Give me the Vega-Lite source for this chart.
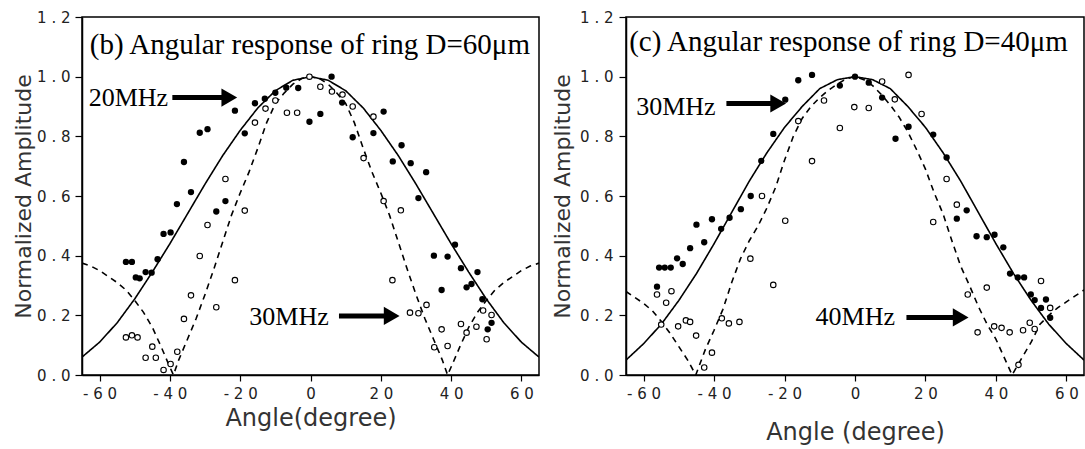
{
  "$schema": "https://vega.github.io/schema/vega-lite/v6.json",
  "padding": {"left": 11, "top": 9, "right": 2, "bottom": 0},
  "background": "white",
  "bounds": "flush",
  "spacing": 87,
  "config": {
    "view": {"stroke": "black", "strokeWidth": 1.5},
    "axis": {
      "domainColor": "black", "domainWidth": 1.5, "tickColor": "black", "tickWidth": 1.2,
      "labelFont": "DejaVu Sans", "labelFontSize": 15, "labelColor": "#222",
      "titleFont": "DejaVu Sans", "titleFontWeight": "normal", "titleColor": "#333",
      "grid": false, "labelOverlap": false, "labelFlush": false
    }
  },
  "datasets": {
    "b_curves": [
      {"curve":"solid","angle":-65,"amp":0.06},{"curve":"solid","angle":-60,"amp":0.11},{"curve":"solid","angle":-55,"amp":0.175},{"curve":"solid","angle":-50,"amp":0.255},{"curve":"solid","angle":-45,"amp":0.345},{"curve":"solid","angle":-40,"amp":0.44},{"curve":"solid","angle":-35,"amp":0.54},{"curve":"solid","angle":-30,"amp":0.64},{"curve":"solid","angle":-25,"amp":0.735},{"curve":"solid","angle":-20,"amp":0.82},{"curve":"solid","angle":-15,"amp":0.895},{"curve":"solid","angle":-10,"amp":0.953},{"curve":"solid","angle":-5,"amp":0.988},{"curve":"solid","angle":0,"amp":1.0},{"curve":"solid","angle":5,"amp":0.988},{"curve":"solid","angle":10,"amp":0.953},{"curve":"solid","angle":15,"amp":0.895},{"curve":"solid","angle":20,"amp":0.82},{"curve":"solid","angle":25,"amp":0.735},{"curve":"solid","angle":30,"amp":0.64},{"curve":"solid","angle":35,"amp":0.54},{"curve":"solid","angle":40,"amp":0.44},{"curve":"solid","angle":45,"amp":0.345},{"curve":"solid","angle":50,"amp":0.255},{"curve":"solid","angle":55,"amp":0.175},{"curve":"solid","angle":60,"amp":0.11},{"curve":"solid","angle":65,"amp":0.06},
      {"curve":"dashed","angle":-65,"amp":0.375},{"curve":"dashed","angle":-62.5,"amp":0.365},{"curve":"dashed","angle":-60,"amp":0.35},{"curve":"dashed","angle":-57.5,"amp":0.33},{"curve":"dashed","angle":-55,"amp":0.31},{"curve":"dashed","angle":-52.5,"amp":0.285},{"curve":"dashed","angle":-50,"amp":0.25},{"curve":"dashed","angle":-47.5,"amp":0.21},{"curve":"dashed","angle":-45,"amp":0.16},{"curve":"dashed","angle":-42.5,"amp":0.095},{"curve":"dashed","angle":-40.5,"amp":0.04},{"curve":"dashed","angle":-39,"amp":0.0},{"curve":"dashed","angle":-37.5,"amp":0.05},{"curve":"dashed","angle":-35,"amp":0.12},{"curve":"dashed","angle":-32.5,"amp":0.19},{"curve":"dashed","angle":-30,"amp":0.27},{"curve":"dashed","angle":-27.5,"amp":0.355},{"curve":"dashed","angle":-25,"amp":0.445},{"curve":"dashed","angle":-22.5,"amp":0.535},{"curve":"dashed","angle":-20,"amp":0.61},{"curve":"dashed","angle":-17.5,"amp":0.68},{"curve":"dashed","angle":-15,"amp":0.76},{"curve":"dashed","angle":-12.5,"amp":0.845},{"curve":"dashed","angle":-10,"amp":0.91},{"curve":"dashed","angle":-7.5,"amp":0.945},{"curve":"dashed","angle":-5,"amp":0.975},{"curve":"dashed","angle":-2.5,"amp":0.994},{"curve":"dashed","angle":0,"amp":1.0},{"curve":"dashed","angle":2.5,"amp":0.994},{"curve":"dashed","angle":5,"amp":0.975},{"curve":"dashed","angle":7.5,"amp":0.945},{"curve":"dashed","angle":10,"amp":0.91},{"curve":"dashed","angle":12.5,"amp":0.845},{"curve":"dashed","angle":15,"amp":0.76},{"curve":"dashed","angle":17.5,"amp":0.68},{"curve":"dashed","angle":20,"amp":0.61},{"curve":"dashed","angle":22.5,"amp":0.535},{"curve":"dashed","angle":25,"amp":0.445},{"curve":"dashed","angle":27.5,"amp":0.355},{"curve":"dashed","angle":30,"amp":0.27},{"curve":"dashed","angle":32.5,"amp":0.19},{"curve":"dashed","angle":35,"amp":0.12},{"curve":"dashed","angle":37.5,"amp":0.05},{"curve":"dashed","angle":39,"amp":0.0},{"curve":"dashed","angle":40.5,"amp":0.04},{"curve":"dashed","angle":42.5,"amp":0.095},{"curve":"dashed","angle":45,"amp":0.16},{"curve":"dashed","angle":47.5,"amp":0.21},{"curve":"dashed","angle":50,"amp":0.25},{"curve":"dashed","angle":52.5,"amp":0.285},{"curve":"dashed","angle":55,"amp":0.31},{"curve":"dashed","angle":57.5,"amp":0.33},{"curve":"dashed","angle":60,"amp":0.35},{"curve":"dashed","angle":62.5,"amp":0.365},{"curve":"dashed","angle":65,"amp":0.375}
    ],
    "b_filled": [
      {"angle":-52.5,"amp":0.379},{"angle":-50.8,"amp":0.379},{"angle":-49.7,"amp":0.327},{"angle":-48.6,"amp":0.324},{"angle":-46.9,"amp":0.345},{"angle":-45.2,"amp":0.343},{"angle":-43.5,"amp":0.388},{"angle":-41.8,"amp":0.473},{"angle":-39.8,"amp":0.478},{"angle":-38.0,"amp":0.573},{"angle":-36.0,"amp":0.714},{"angle":-34.0,"amp":0.613},{"angle":-31.5,"amp":0.812},{"angle":-29.3,"amp":0.824},{"angle":-26.8,"amp":0.548},{"angle":-24.2,"amp":0.583},{"angle":-21.5,"amp":0.886},{"angle":-18.7,"amp":0.81},{"angle":-15.8,"amp":0.911},{"angle":-13.0,"amp":0.926},{"angle":-10.0,"amp":0.946},{"angle":-6.9,"amp":0.963},{"angle":-3.5,"amp":0.962},{"angle":-0.3,"amp":0.849},{"angle":2.8,"amp":0.875},{"angle":6.0,"amp":1.0},{"angle":9.0,"amp":0.913},{"angle":12.0,"amp":0.797},{"angle":17.9,"amp":0.811},{"angle":20.8,"amp":0.883},{"angle":23.4,"amp":0.716},{"angle":25.9,"amp":0.77},{"angle":28.5,"amp":0.71},{"angle":30.7,"amp":0.593},{"angle":32.9,"amp":0.68},{"angle":35.1,"amp":0.40},{"angle":37.3,"amp":0.285},{"angle":39.0,"amp":0.397},{"angle":41.1,"amp":0.437},{"angle":42.8,"amp":0.358},{"angle":44.4,"amp":0.294},{"angle":45.8,"amp":0.305},{"angle":47.5,"amp":0.345},{"angle":48.9,"amp":0.254},{"angle":50.4,"amp":0.153},{"angle":51.5,"amp":0.175}
    ],
    "b_open": [
      {"angle":-52.5,"amp":0.126},{"angle":-50.8,"amp":0.133},{"angle":-49.2,"amp":0.126},{"angle":-46.9,"amp":0.058},{"angle":-45.0,"amp":0.095},{"angle":-44.0,"amp":0.058},{"angle":-41.8,"amp":0.017},{"angle":-39.8,"amp":0.037},{"angle":-37.9,"amp":0.078},{"angle":-36.0,"amp":0.188},{"angle":-34.0,"amp":0.267},{"angle":-31.5,"amp":0.399},{"angle":-29.3,"amp":0.503},{"angle":-26.8,"amp":0.227},{"angle":-24.2,"amp":0.657},{"angle":-21.5,"amp":0.318},{"angle":-18.7,"amp":0.551},{"angle":-15.8,"amp":0.846},{"angle":-12.8,"amp":0.893},{"angle":-10.0,"amp":0.92},{"angle":-6.7,"amp":0.879},{"angle":-3.8,"amp":0.879},{"angle":-0.3,"amp":1.0},{"angle":2.8,"amp":0.966},{"angle":6.1,"amp":0.95},{"angle":9.1,"amp":0.94},{"angle":12.0,"amp":0.9},{"angle":15.1,"amp":0.727},{"angle":17.9,"amp":0.866},{"angle":20.8,"amp":0.583},{"angle":23.3,"amp":0.318},{"angle":25.7,"amp":0.552},{"angle":28.3,"amp":0.209},{"angle":30.7,"amp":0.207},{"angle":33.0,"amp":0.235},{"angle":35.2,"amp":0.093},{"angle":37.3,"amp":0.153},{"angle":39.0,"amp":0.097},{"angle":42.8,"amp":0.171},{"angle":44.4,"amp":0.142},{"angle":47.2,"amp":0.162},{"angle":49.1,"amp":0.216},{"angle":50.1,"amp":0.12},{"angle":51.5,"amp":0.201}
    ],
    "b_title": [{"angle":-62.8,"amp":1.105,"label":"(b) Angular response of ring D=60μm"}],
    "b_labels": [{"angle":-63.1,"amp":0.928,"label":"20MHz"},{"angle":-17.4,"amp":0.193,"label":"30MHz"}],
    "b_arrows": [{"angle":-39.3,"angle2":-23.1,"amp":0.93},{"angle":8.1,"angle2":23.1,"amp":0.198}],
    "c_curves": [
      {"curve":"solid","angle":-65,"amp":0.05},{"curve":"solid","angle":-60,"amp":0.105},{"curve":"solid","angle":-55,"amp":0.17},{"curve":"solid","angle":-50,"amp":0.25},{"curve":"solid","angle":-45,"amp":0.34},{"curve":"solid","angle":-40,"amp":0.44},{"curve":"solid","angle":-35,"amp":0.545},{"curve":"solid","angle":-30,"amp":0.65},{"curve":"solid","angle":-25,"amp":0.745},{"curve":"solid","angle":-20,"amp":0.83},{"curve":"solid","angle":-15,"amp":0.9},{"curve":"solid","angle":-10,"amp":0.96},{"curve":"solid","angle":-5,"amp":0.99},{"curve":"solid","angle":0,"amp":1.0},{"curve":"solid","angle":5,"amp":0.99},{"curve":"solid","angle":10,"amp":0.96},{"curve":"solid","angle":15,"amp":0.9},{"curve":"solid","angle":20,"amp":0.83},{"curve":"solid","angle":25,"amp":0.745},{"curve":"solid","angle":30,"amp":0.65},{"curve":"solid","angle":35,"amp":0.545},{"curve":"solid","angle":40,"amp":0.44},{"curve":"solid","angle":45,"amp":0.34},{"curve":"solid","angle":50,"amp":0.25},{"curve":"solid","angle":55,"amp":0.17},{"curve":"solid","angle":60,"amp":0.105},{"curve":"solid","angle":65,"amp":0.05},
      {"curve":"dashed","angle":-65,"amp":0.28},{"curve":"dashed","angle":-62.5,"amp":0.26},{"curve":"dashed","angle":-60,"amp":0.24},{"curve":"dashed","angle":-57.5,"amp":0.215},{"curve":"dashed","angle":-55,"amp":0.18},{"curve":"dashed","angle":-52.5,"amp":0.14},{"curve":"dashed","angle":-50,"amp":0.095},{"curve":"dashed","angle":-47.5,"amp":0.05},{"curve":"dashed","angle":-45.2,"amp":0.0},{"curve":"dashed","angle":-42.5,"amp":0.085},{"curve":"dashed","angle":-40,"amp":0.15},{"curve":"dashed","angle":-37.5,"amp":0.22},{"curve":"dashed","angle":-35,"amp":0.31},{"curve":"dashed","angle":-32.5,"amp":0.39},{"curve":"dashed","angle":-30,"amp":0.45},{"curve":"dashed","angle":-27.5,"amp":0.5},{"curve":"dashed","angle":-25,"amp":0.56},{"curve":"dashed","angle":-22.5,"amp":0.63},{"curve":"dashed","angle":-20,"amp":0.72},{"curve":"dashed","angle":-17.5,"amp":0.8},{"curve":"dashed","angle":-15,"amp":0.86},{"curve":"dashed","angle":-12.5,"amp":0.9},{"curve":"dashed","angle":-10,"amp":0.93},{"curve":"dashed","angle":-7.5,"amp":0.955},{"curve":"dashed","angle":-5,"amp":0.975},{"curve":"dashed","angle":-2.5,"amp":0.993},{"curve":"dashed","angle":0,"amp":1.0},{"curve":"dashed","angle":2.5,"amp":0.99},{"curve":"dashed","angle":5,"amp":0.97},{"curve":"dashed","angle":7.5,"amp":0.94},{"curve":"dashed","angle":10,"amp":0.905},{"curve":"dashed","angle":12.5,"amp":0.865},{"curve":"dashed","angle":15,"amp":0.815},{"curve":"dashed","angle":17.5,"amp":0.755},{"curve":"dashed","angle":20,"amp":0.69},{"curve":"dashed","angle":22.5,"amp":0.61},{"curve":"dashed","angle":25,"amp":0.54},{"curve":"dashed","angle":27.5,"amp":0.45},{"curve":"dashed","angle":30,"amp":0.365},{"curve":"dashed","angle":32.5,"amp":0.3},{"curve":"dashed","angle":35,"amp":0.23},{"curve":"dashed","angle":37.5,"amp":0.17},{"curve":"dashed","angle":40,"amp":0.12},{"curve":"dashed","angle":42.5,"amp":0.055},{"curve":"dashed","angle":44.6,"amp":0.0},{"curve":"dashed","angle":47.5,"amp":0.06},{"curve":"dashed","angle":50,"amp":0.11},{"curve":"dashed","angle":52.5,"amp":0.17},{"curve":"dashed","angle":55,"amp":0.2},{"curve":"dashed","angle":57.5,"amp":0.225},{"curve":"dashed","angle":60,"amp":0.245},{"curve":"dashed","angle":62.5,"amp":0.265},{"curve":"dashed","angle":65,"amp":0.285}
    ],
    "c_filled": [
      {"angle":-56.2,"amp":0.296},{"angle":-55.6,"amp":0.36},{"angle":-54.0,"amp":0.36},{"angle":-52.3,"amp":0.36},{"angle":-50.5,"amp":0.391},{"angle":-48.9,"amp":0.372},{"angle":-46.8,"amp":0.425},{"angle":-45.0,"amp":0.504},{"angle":-42.8,"amp":0.445},{"angle":-40.6,"amp":0.522},{"angle":-38.0,"amp":0.49},{"angle":-35.6,"amp":0.527},{"angle":-32.4,"amp":0.556},{"angle":-29.6,"amp":0.6},{"angle":-26.6,"amp":0.718},{"angle":-23.2,"amp":0.808},{"angle":-19.8,"amp":0.923},{"angle":-16.1,"amp":0.988},{"angle":-12.2,"amp":1.006},{"angle":-4.3,"amp":0.97},{"angle":0.0,"amp":1.0},{"angle":3.9,"amp":0.98},{"angle":7.7,"amp":0.93},{"angle":11.5,"amp":0.792},{"angle":15.2,"amp":0.832},{"angle":22.2,"amp":0.806},{"angle":26.0,"amp":0.729},{"angle":28.9,"amp":0.524},{"angle":31.7,"amp":0.552},{"angle":34.5,"amp":0.465},{"angle":37.4,"amp":0.462},{"angle":39.6,"amp":0.47},{"angle":42.1,"amp":0.428},{"angle":44.0,"amp":0.34},{"angle":46.2,"amp":0.327},{"angle":48.0,"amp":0.327},{"angle":49.9,"amp":0.27},{"angle":51.0,"amp":0.251},{"angle":52.8,"amp":0.225},{"angle":54.2,"amp":0.253},{"angle":55.4,"amp":0.192}
    ],
    "c_open": [
      {"angle":-56.2,"amp":0.27},{"angle":-55.0,"amp":0.169},{"angle":-53.6,"amp":0.242},{"angle":-52.1,"amp":0.281},{"angle":-50.2,"amp":0.163},{"angle":-48.0,"amp":0.183},{"angle":-46.8,"amp":0.178},{"angle":-45.1,"amp":0.132},{"angle":-42.8,"amp":0.025},{"angle":-40.6,"amp":0.075},{"angle":-37.8,"amp":0.19},{"angle":-35.8,"amp":0.173},{"angle":-32.8,"amp":0.178},{"angle":-29.7,"amp":0.39},{"angle":-26.4,"amp":0.6},{"angle":-23.2,"amp":0.302},{"angle":-19.8,"amp":0.517},{"angle":-16.1,"amp":0.851},{"angle":-12.2,"amp":0.717},{"angle":-8.8,"amp":0.92},{"angle":-4.3,"amp":0.828},{"angle":-0.2,"amp":0.898},{"angle":3.9,"amp":0.895},{"angle":7.7,"amp":0.984},{"angle":11.3,"amp":0.924},{"angle":15.2,"amp":1.006},{"angle":18.9,"amp":0.875},{"angle":22.2,"amp":0.513},{"angle":26.0,"amp":0.657},{"angle":28.9,"amp":0.571},{"angle":32.0,"amp":0.27},{"angle":34.8,"amp":0.143},{"angle":37.4,"amp":0.293},{"angle":39.5,"amp":0.163},{"angle":41.6,"amp":0.158},{"angle":43.9,"amp":0.143},{"angle":46.4,"amp":0.034},{"angle":47.7,"amp":0.15},{"angle":49.6,"amp":0.175},{"angle":51.0,"amp":0.154},{"angle":52.8,"amp":0.315},{"angle":55.4,"amp":0.225}
    ],
    "c_title": [{"angle":-64.1,"amp":1.116,"label":"(c) Angular response of ring D=40μm"}],
    "c_labels": [{"angle":-62.1,"amp":0.9,"label":"30MHz"},{"angle":-11.2,"amp":0.193,"label":"40MHz"}],
    "c_arrows": [{"angle":-36.5,"angle2":-21.8,"amp":0.91},{"angle":14.6,"angle2":30.0,"amp":0.193}]
  },
  "hconcat": [
    {
      "width": 457, "height": 358,
      "layer": [
        {
          "data": {"name": "b_curves"},
          "mark": {"type": "line", "color": "black", "strokeWidth": 1.6, "clip": true},
          "encoding": {
            "x": {"field": "angle", "type": "quantitative", "scale": {"domain": [-65, 65], "nice": false, "zero": false},
              "axis": {"title": "Angle(degree)", "titleFontSize": 24, "titlePadding": 5, "labelPadding": 5,
                "values": [-60,-50,-40,-30,-20,-10,0,10,20,30,40,50,60],
                "tickSize": {"condition": {"test": "datum.value % 20 === 0", "value": 6}, "value": 3},
                "labelExpr": "datum.value % 20 === 0 ? join(split((datum.value < 0 ? '-' : '') + format(abs(datum.value), 'd'), ''), ' ') : ''"}},
            "y": {"field": "amp", "type": "quantitative", "scale": {"domain": [0, 1.2], "nice": false},
              "axis": {"title": "Normalized Amplitude", "titleFontSize": 22, "titlePadding": 1, "labelPadding": 5,
                "values": [0,0.1,0.2,0.3,0.4,0.5,0.6,0.7,0.8,0.9,1.0,1.1,1.2],
                "tickSize": {"condition": {"test": "round(datum.value*10) % 2 === 0", "value": 7}, "value": 4},
                "labelExpr": "round(datum.value*10) % 2 === 0 ? join(split(format(datum.value, '.1f'), ''), ' ') : ''"}},
            "strokeDash": {"field": "curve", "type": "nominal", "scale": {"domain": ["solid", "dashed"], "range": [[1, 0], [6, 5]]}, "legend": null}
          }
        },
        {
          "data": {"name": "b_filled"},
          "mark": {"type": "point", "shape": "circle", "filled": true, "color": "black", "size": 40, "opacity": 1},
          "encoding": {"x": {"field": "angle", "type": "quantitative"}, "y": {"field": "amp", "type": "quantitative"}}
        },
        {
          "data": {"name": "b_open"},
          "mark": {"type": "point", "shape": "circle", "fill": "white", "fillOpacity": 1, "stroke": "black", "strokeWidth": 1.1, "size": 30, "opacity": 1},
          "encoding": {"x": {"field": "angle", "type": "quantitative"}, "y": {"field": "amp", "type": "quantitative"}}
        },
        {
          "data": {"name": "b_arrows"},
          "mark": {"type": "rule", "color": "black", "strokeWidth": 5},
          "encoding": {"x": {"field": "angle", "type": "quantitative"}, "x2": {"field": "angle2"}, "y": {"field": "amp", "type": "quantitative"}}
        },
        {
          "data": {"name": "b_arrows"},
          "mark": {"type": "point", "shape": "triangle-right", "filled": true, "color": "black", "size": 330, "opacity": 1},
          "encoding": {"x": {"field": "angle2", "type": "quantitative"}, "y": {"field": "amp", "type": "quantitative"}}
        },
        {
          "data": {"name": "b_labels"},
          "mark": {"type": "text", "font": "Liberation Serif", "fontSize": 26, "align": "left", "baseline": "middle", "color": "black"},
          "encoding": {"x": {"field": "angle", "type": "quantitative"}, "y": {"field": "amp", "type": "quantitative"}, "text": {"field": "label"}}
        },
        {
          "data": {"name": "b_title"},
          "mark": {"type": "text", "font": "Liberation Serif", "fontSize": 29, "align": "left", "baseline": "middle", "color": "black"},
          "encoding": {"x": {"field": "angle", "type": "quantitative"}, "y": {"field": "amp", "type": "quantitative"}, "text": {"field": "label"}}
        }
      ]
    },
    {
      "width": 458, "height": 358,
      "layer": [
        {
          "data": {"name": "c_curves"},
          "mark": {"type": "line", "color": "black", "strokeWidth": 1.6, "clip": true},
          "encoding": {
            "x": {"field": "angle", "type": "quantitative", "scale": {"domain": [-65, 65], "nice": false, "zero": false},
              "axis": {"title": "Angle (degree)", "titleFontSize": 24, "titlePadding": 19, "labelPadding": 5,
                "values": [-60,-50,-40,-30,-20,-10,0,10,20,30,40,50,60],
                "tickSize": {"condition": {"test": "datum.value % 20 === 0", "value": 6}, "value": 3},
                "labelExpr": "datum.value % 20 === 0 ? join(split((datum.value < 0 ? '-' : '') + format(abs(datum.value), 'd'), ''), ' ') : ''"}},
            "y": {"field": "amp", "type": "quantitative", "scale": {"domain": [0, 1.2], "nice": false},
              "axis": {"title": "Normalized Amplitude", "titleFontSize": 22, "titlePadding": 5, "labelPadding": 6,
                "values": [0,0.1,0.2,0.3,0.4,0.5,0.6,0.7,0.8,0.9,1.0,1.1,1.2],
                "tickSize": {"condition": {"test": "round(datum.value*10) % 2 === 0", "value": 7}, "value": 4},
                "labelExpr": "round(datum.value*10) % 2 === 0 ? join(split(format(datum.value, '.1f'), ''), ' ') : ''"}},
            "strokeDash": {"field": "curve", "type": "nominal", "scale": {"domain": ["solid", "dashed"], "range": [[1, 0], [6, 5]]}, "legend": null}
          }
        },
        {
          "data": {"name": "c_filled"},
          "mark": {"type": "point", "shape": "circle", "filled": true, "color": "black", "size": 40, "opacity": 1},
          "encoding": {"x": {"field": "angle", "type": "quantitative"}, "y": {"field": "amp", "type": "quantitative"}}
        },
        {
          "data": {"name": "c_open"},
          "mark": {"type": "point", "shape": "circle", "fill": "white", "fillOpacity": 1, "stroke": "black", "strokeWidth": 1.1, "size": 30, "opacity": 1},
          "encoding": {"x": {"field": "angle", "type": "quantitative"}, "y": {"field": "amp", "type": "quantitative"}}
        },
        {
          "data": {"name": "c_arrows"},
          "mark": {"type": "rule", "color": "black", "strokeWidth": 5},
          "encoding": {"x": {"field": "angle", "type": "quantitative"}, "x2": {"field": "angle2"}, "y": {"field": "amp", "type": "quantitative"}}
        },
        {
          "data": {"name": "c_arrows"},
          "mark": {"type": "point", "shape": "triangle-right", "filled": true, "color": "black", "size": 330, "opacity": 1},
          "encoding": {"x": {"field": "angle2", "type": "quantitative"}, "y": {"field": "amp", "type": "quantitative"}}
        },
        {
          "data": {"name": "c_labels"},
          "mark": {"type": "text", "font": "Liberation Serif", "fontSize": 26, "align": "left", "baseline": "middle", "color": "black"},
          "encoding": {"x": {"field": "angle", "type": "quantitative"}, "y": {"field": "amp", "type": "quantitative"}, "text": {"field": "label"}}
        },
        {
          "data": {"name": "c_title"},
          "mark": {"type": "text", "font": "Liberation Serif", "fontSize": 29, "align": "left", "baseline": "middle", "color": "black"},
          "encoding": {"x": {"field": "angle", "type": "quantitative"}, "y": {"field": "amp", "type": "quantitative"}, "text": {"field": "label"}}
        }
      ]
    }
  ]
}
